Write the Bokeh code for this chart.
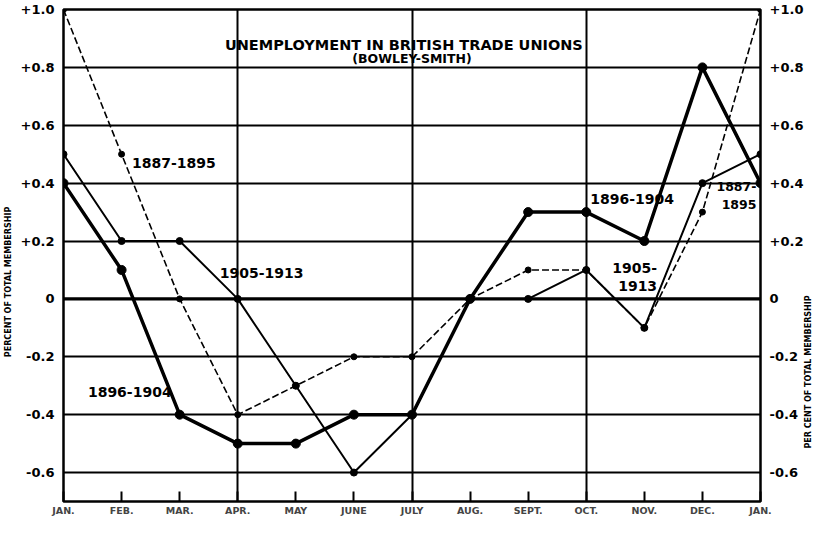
import math
from bokeh.plotting import figure
from bokeh.models import LinearAxis, FixedTicker, Span, Range1d, ColumnDataSource
from bokeh.core.properties import value
from bokeh.embed import file_html
from bokeh.resources import INLINE

months = ["JAN.", "FEB.", "MAR.", "APR.", "MAY", "JUNE", "JULY", "AUG.", "SEPT.", "OCT.", "NOV.", "DEC.", "JAN."]
month_idx = list(range(13))

s_1887_1895 = [1.0, 0.5, 0.0, -0.4, -0.3, -0.2, -0.2, 0.0, 0.1, 0.1, -0.1, 0.3, 1.0]
s_1896_1904 = [0.4, 0.1, -0.4, -0.5, -0.5, -0.4, -0.4, 0.0, 0.3, 0.3, 0.2, 0.8, 0.4]
s_1905_1913 = [0.5, 0.2, 0.2, 0.0, -0.3, -0.6, -0.4, 0.0, 0.0, 0.1, -0.1, 0.4, 0.5]

y_ticks = [-0.6, -0.4, -0.2, 0.0, 0.2, 0.4, 0.6, 0.8, 1.0]
y_tick_labels = ["-0.6", "-0.4", "-0.2", "0", "+0.2", "+0.4", "+0.6", "+0.8", "+1.0"]

left_title = "PERCENT OF TOTAL MEMBERSHIP"
right_title = "PER CENT OF TOTAL MEMBERSHIP"

FONT = "DejaVu Sans"
NB = "\u00a0"

p = figure(width=820, height=518, x_range=Range1d(0, 12), y_range=Range1d(-0.7, 1.0),
           output_backend="svg", toolbar_location=None,
           min_border_left=63, min_border_right=58, min_border_top=9, min_border_bottom=15,
           x_axis_location=None, y_axis_location=None)
p.background_fill_color = "white"
p.border_fill_color = "white"
p.outline_line_color = "black"
p.outline_line_width = 2.5
p.outline_line_alpha = 1

# grids
p.xgrid.ticker = FixedTicker(ticks=[3, 6, 9])
p.xgrid.grid_line_color = "black"
p.xgrid.grid_line_width = 2
p.ygrid.ticker = FixedTicker(ticks=y_ticks)
p.ygrid.grid_line_color = "black"
p.ygrid.grid_line_width = 2
p.add_layout(Span(location=0, dimension="width", line_color="black", line_width=3))

overrides = {t: l for t, l in zip(y_ticks, y_tick_labels)}

def style_y(ax, standoff):
    ax.ticker = FixedTicker(ticks=y_ticks)
    ax.major_label_overrides = overrides
    ax.axis_line_color = None
    ax.major_tick_line_color = None
    ax.minor_tick_line_color = None
    ax.major_label_text_font = FONT
    ax.major_label_text_font_style = "bold"
    ax.major_label_text_font_size = "13px"
    ax.major_label_text_color = "black"
    ax.major_label_standoff = 3
    ax.axis_label_text_font = FONT
    ax.axis_label_text_font_style = "bold"
    ax.axis_label_text_font_size = "8px"
    ax.axis_label_text_color = "black"
    ax.axis_label_standoff = standoff

yl = LinearAxis()
style_y(yl, 5)
yl.axis_label = left_title + NB * 19
p.add_layout(yl, "left")

yr = LinearAxis()
style_y(yr, 2)
try:
    yr.axis_label_orientation = math.pi / 2
    yr.axis_label_align = "start"
    yr.axis_label = NB * 19 + right_title
except Exception:
    yr.axis_label = NB * 80 + right_title
p.add_layout(yr, "right")

xa = LinearAxis()
xa.ticker = FixedTicker(ticks=month_idx)
xa.major_label_overrides = {i: m for i, m in zip(month_idx, months)}
xa.axis_line_color = None
xa.major_tick_in = 10
xa.major_tick_out = 0
xa.major_tick_line_color = "black"
xa.major_tick_line_width = 2
xa.minor_tick_line_color = None
xa.major_label_text_font = FONT
xa.major_label_text_font_style = "bold"
xa.major_label_text_font_size = "9.5px"
xa.major_label_standoff = 3
p.add_layout(xa, "below")

# series
p.line(month_idx, s_1887_1895, line_color="black", line_width=1.6, line_dash="7 3")
p.scatter(month_idx, s_1887_1895, size=6, color="black")
p.line(month_idx, s_1905_1913, line_color="black", line_width=2)
p.scatter(month_idx, s_1905_1913, size=7, color="black")
p.line(month_idx, s_1896_1904, line_color="black", line_width=3.5)
p.scatter(month_idx, s_1896_1904, size=9, color="black")

# title
p.text(x=[5.86], y=[0.878], text=["UNEMPLOYMENT IN BRITISH TRADE UNIONS"],
       text_font=value(FONT), text_font_style="bold", text_font_size="14.5px",
       text_align="center", text_baseline="middle", text_color="black")
p.text(x=[6.0], y=[0.832], text=["(BOWLEY-SMITH)"],
       text_font=value(FONT), text_font_style="bold", text_font_size="12.5px",
       text_align="center", text_baseline="middle", text_color="black")

lab = ColumnDataSource(dict(
    x=[1.18, 2.69, 0.42, 9.07],
    y=[0.468, 0.088, -0.32, 0.346],
    t=["1887-1895", "1905-1913", "1896-1904", "1896-1904"]))
p.text(x="x", y="y", text="t", source=lab, text_font=value(FONT), text_font_style="bold",
       text_font_size="14px", text_align="left", text_baseline="middle", text_color="black")

lab2 = ColumnDataSource(dict(
    x=[10.22, 10.22],
    y=[0.108, 0.044],
    t=["1905-", "1913"]))
p.text(x="x", y="y", text="t", source=lab2, text_font=value(FONT), text_font_style="bold",
       text_font_size="14px", text_align="right", text_baseline="middle", text_color="black")

lab3 = ColumnDataSource(dict(
    x=[11.93, 11.93],
    y=[0.39, 0.325],
    t=["1887-", "1895"]))
p.text(x="x", y="y", text="t", source=lab3, text_font=value(FONT), text_font_style="bold",
       text_font_size="12.5px", text_align="right", text_baseline="middle", text_color="black")

open("out.html", "w").write(file_html(p, INLINE))
